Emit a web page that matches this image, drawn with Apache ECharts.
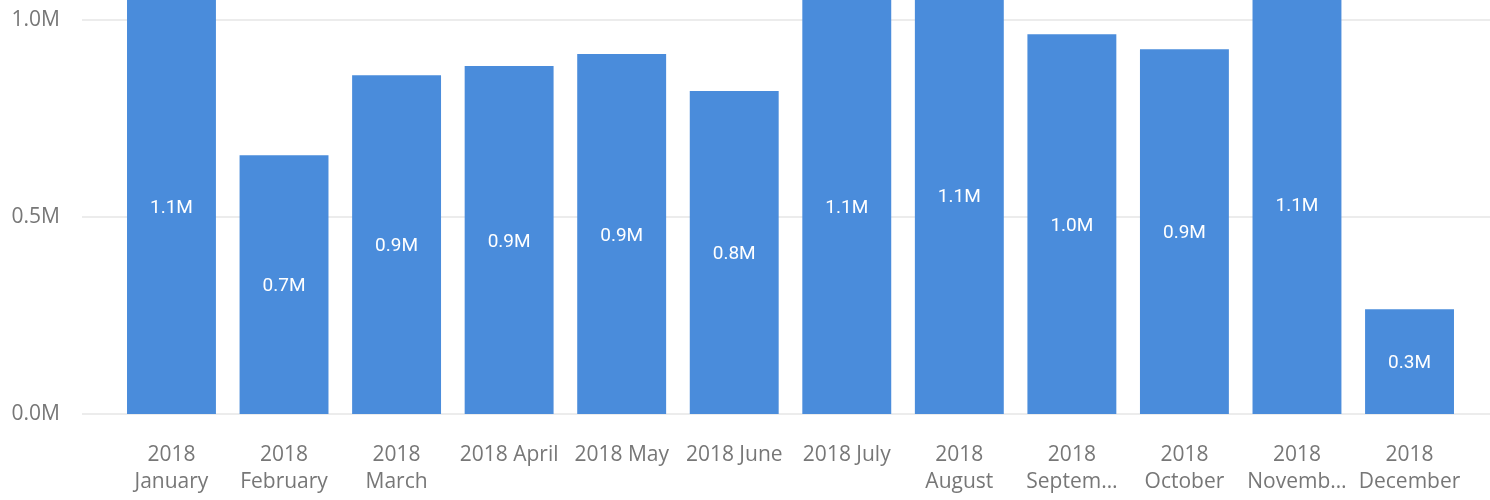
<!DOCTYPE html>
<html>
<head>
<meta charset="utf-8">
<script src="https://cdn.jsdelivr.net/npm/echarts@6/dist/echarts.min.js"></script>
<style>
html,body{margin:0;padding:0;background:#fff;}
#chart{width:1490px;height:500px;}
</style>
</head>
<body>
<div id="chart"></div>
<script>
// Data
var categories = ['2018 January','2018 February','2018 March','2018 April','2018 May','2018 June','2018 July','2018 August','2018 September','2018 October','2018 November','2018 December'];
var tickLabels = ['2018\nJanuary','2018\nFebruary','2018\nMarch','2018 April','2018 May','2018 June','2018 July','2018\nAugust','2018\nSeptem\u2026','2018\nOctober','2018\nNovemb\u2026','2018\nDecember'];
var values = [1054000, 657000, 860000, 883000, 914000, 820000, 1055000, 1112000, 964000, 926000, 1066000, 266000];
var yTicks = [0, 500000, 1000000];

function fmtM(v){ return (v/1e6).toFixed(1) + 'M'; }

var chart = echarts.init(document.getElementById('chart'));
var font = '"Open Sans", "Noto Sans", sans-serif';
chart.setOption({
  animation: false,
  grid: [
    {left: 82, right: 0, top: 20, bottom: 86},
    {left: 115.2, right: 24.2, top: 20, bottom: 86}
  ],
  xAxis: [
    {gridIndex: 0, type: 'category', data: [''], show: false},
    {
      gridIndex: 1, type: 'category', data: categories,
      axisLine: {show: false}, axisTick: {show: false},
      axisLabel: {
        interval: 0, color: '#777', fontSize: 21, fontFamily: font,
        lineHeight: 27, margin: 28, verticalAlign: 'top',
        formatter: function(v, i){ return tickLabels[i]; }
      }
    }
  ],
  yAxis: [
    {
      gridIndex: 0, type: 'value', min: yTicks[0], max: yTicks[2], interval: yTicks[1] - yTicks[0],
      axisLine: {show: false}, axisTick: {show: false},
      splitLine: {lineStyle: {color: '#e6e6e6', width: 1.5}},
      axisLabel: {color: '#777', fontSize: 21, fontFamily: font, margin: 22, formatter: fmtM}
    },
    {
      gridIndex: 1, type: 'value', min: yTicks[0], max: yTicks[2], interval: yTicks[1] - yTicks[0],
      show: false, splitLine: {show: false}
    }
  ],
  series: [{
    type: 'bar', xAxisIndex: 1, yAxisIndex: 1,
    data: values, clip: false, barCategoryGap: '21%',
    itemStyle: {color: '#4A8CDB'},
    label: {
      show: true, position: 'inside', color: '#fff', fontSize: 19,
      fontFamily: 'Roboto, sans-serif', offset: [0, 2],
      formatter: function(p){ return fmtM(p.value); }
    }
  }]
});
</script>
</body>
</html>
